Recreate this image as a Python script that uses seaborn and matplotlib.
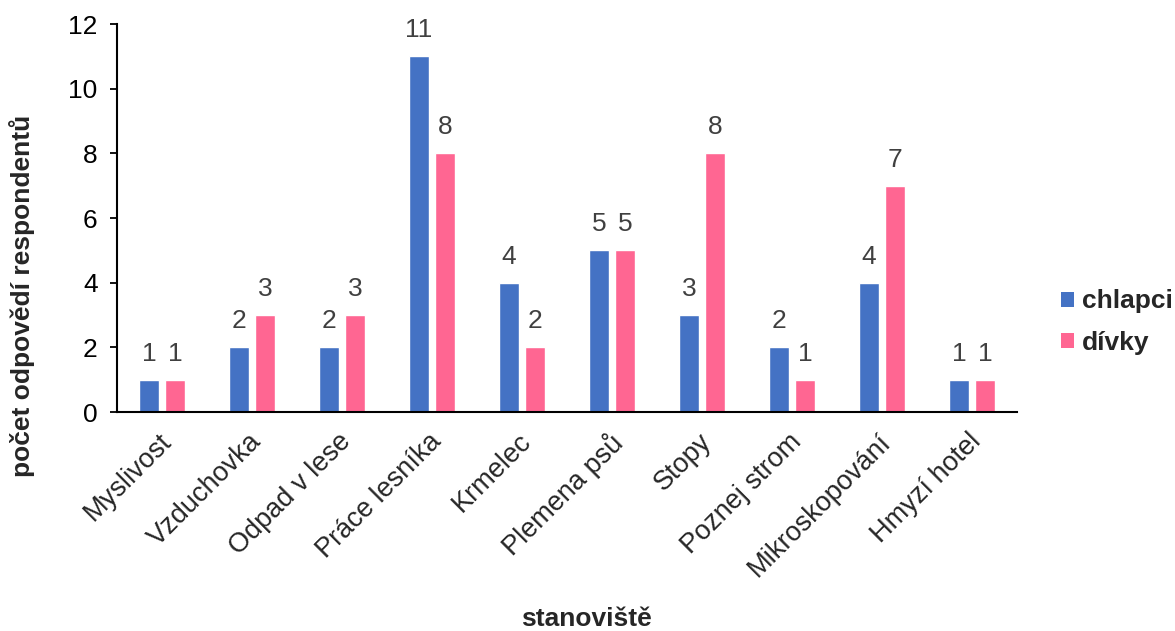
import matplotlib
matplotlib.use("Agg")
import matplotlib.pyplot as plt
import matplotlib.transforms as mtransforms
import seaborn as sns
import pandas as pd
from matplotlib.patches import Patch

categories = ["Myslivost", "Vzduchovka", "Odpad v lese", "Práce lesníka", "Krmelec",
              "Plemena psů", "Stopy", "Poznej strom", "Mikroskopování", "Hmyzí hotel"]
chlapci = [1, 2, 2, 11, 4, 5, 3, 2, 4, 1]
divky = [1, 3, 3, 8, 2, 5, 8, 1, 7, 1]
series_names = ["chlapci", "dívky"]
colors = ["#4472C4", "#FF6692"]

df = pd.DataFrame({
    "stanoviště": categories * 2,
    "počet": chlapci + divky,
    "skupina": [series_names[0]] * len(categories) + [series_names[1]] * len(categories),
})

sns.set_style("white")
plt.rcParams["font.family"] = ["Liberation Sans", "DejaVu Sans"]

FS = 19

fig = plt.figure(figsize=(11.75, 6.31), dpi=100)
ax = fig.add_axes([117 / 1175, 1 - 412 / 631, 900 / 1175, 388 / 631])

sns.barplot(data=df, x="stanoviště", y="počet", hue="skupina", order=categories,
            hue_order=series_names, palette=colors, width=0.58, gap=0.23,
            saturation=1, legend=False, ax=ax)

for container in ax.containers:
    ax.bar_label(container, fmt="%d", padding=10, fontsize=FS, color="#404040")

ax.set_xlim(-0.5, 9.5)
ax.set_ylim(0, 12)
ax.set_yticks(range(0, 13, 2))
ax.tick_params(axis="y", which="major", direction="out", length=5, width=1.3,
               colors="black", labelsize=FS, pad=9, left=True)
ax.tick_params(axis="x", length=0, labelsize=19.5, pad=12)

# slanted category labels, right end near each category
shift = mtransforms.ScaledTranslation(-4 / 100, 0, fig.dpi_scale_trans)
for lbl in ax.get_xticklabels():
    lbl.set_rotation(45)
    lbl.set_ha("right")
    lbl.set_va("top")
    lbl.set_rotation_mode("anchor")
    lbl.set_transform(lbl.get_transform() + shift)

for side in ["top", "right"]:
    ax.spines[side].set_visible(False)
for side in ["left", "bottom"]:
    ax.spines[side].set_color("black")
    ax.spines[side].set_linewidth(1.5)

ax.set_xlabel("stanoviště", fontsize=19, fontweight="bold")
ax.xaxis.label.set_va("center")
ax.xaxis.set_label_coords((586 - 117) / 900, (412 - 619) / 388)

ax.set_ylabel("počet odpovědí respondentů", fontsize=19, fontweight="bold")
ax.yaxis.label.set_va("center")
ax.yaxis.set_label_coords((22 - 117) / 900, (412 - 296) / 388)

handles = [Patch(facecolor=c, edgecolor="none") for c in colors]
leg = fig.legend(handles, series_names, loc="center left",
                 bbox_to_anchor=(1061 / 1175, 1 - 322 / 631),
                 frameon=False, prop={"weight": "bold", "size": 19},
                 handlelength=0.5, handleheight=0.5, handletextpad=0.3,
                 labelspacing=0.65, borderpad=0, borderaxespad=0)

fig.savefig("out.png", dpi=100, facecolor="white")
